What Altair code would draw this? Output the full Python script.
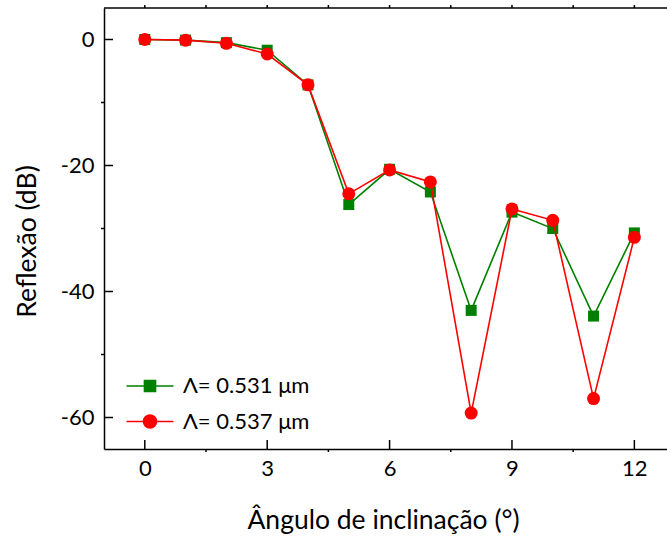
import altair as alt
import pandas as pd

# ---- data ----
angles = [0, 1, 2, 3, 4, 5, 6, 7, 8, 9, 10, 11, 12]
refl_531 = [0.0, -0.1, -0.5, -1.7, -7.2, -26.2, -20.6, -24.2, -43.0, -27.4, -30.0, -43.9, -30.7]
refl_537 = [0.0, -0.1, -0.6, -2.3, -7.2, -24.5, -20.7, -22.6, -59.3, -26.9, -28.7, -57.0, -31.4]
series_names = ["Λ= 0.531 μm", "Λ= 0.537 μm"]
series_colors = ["#008000", "#ff0000"]

x_major = [0, 3, 6, 9, 12]
x_minor = [1.5, 4.5, 7.5, 10.5]
x_top = [0, 1.5, 3, 4.5, 6, 7.5, 9, 10.5, 12]
y_major = [0, -20, -40, -60]
y_minor = [-10, -30, -50]

X_DOMAIN = [-1, 12.8]
Y_DOMAIN = [-65, 5]

W, H = 563, 441
FONT = "Lato"

df = pd.DataFrame({
    "angle": angles * 2,
    "refl": refl_531 + refl_537,
    "series": [series_names[0]] * len(angles) + [series_names[1]] * len(angles),
})

xscale = alt.Scale(domain=X_DOMAIN, nice=False, zero=False)
yscale = alt.Scale(domain=Y_DOMAIN, nice=False, zero=False)
cscale = alt.Scale(domain=series_names, range=series_colors)

xaxis = alt.Axis(values=x_major, ticks=False, grid=False, domainColor="black", domainWidth=1.5,
                 labelFontSize=22, labelFont=FONT, labelColor="black", labelPadding=9,
                 title="Ângulo de inclinação (°)", titleFont=FONT, titleFontSize=26.5,
                 titleFontWeight="normal", titleColor="black", titleX=279, titleY=71,
                 titleBaseline="middle")
yaxis = alt.Axis(values=y_major, ticks=False, grid=False, domainColor="black", domainWidth=1.5,
                 labelFontSize=22, labelFont=FONT, labelColor="black", labelPadding=10,
                 labelExpr="'' + datum.value",
                 title="Reflexão (dB)", titleFont=FONT, titleFontSize=26.5,
                 titleFontWeight="normal", titleColor="black", titleX=-77, titleY=233,
                 titleBaseline="middle")

X = alt.X("angle:Q", scale=xscale, axis=xaxis)
Y = alt.Y("refl:Q", scale=yscale, axis=yaxis)

base = alt.Chart(df)

layers = []
shapes = ["square", "circle"]
sizes = [121, 169]
for i, name in enumerate(series_names):
    sub = base.transform_filter(alt.datum.series == name)
    layers.append(sub.mark_line(strokeWidth=1.6, color=series_colors[i]).encode(x=X, y=Y))
    layers.append(sub.mark_point(filled=True, opacity=1, shape=shapes[i], size=sizes[i],
                                 color=series_colors[i]).encode(x=X, y=Y))

# legend-only layer (no marks drawn)
legend_paths = [
    "M-2,0H2M-0.47,-0.47H0.47V0.47H-0.47Z",
    "M-2,0H2M0.55,0A0.55,0.55 0 1,1 -0.55,0A0.55,0.55 0 1,1 0.55,0Z",
]
leg = alt.Legend(title=None, orient="none", legendX=33, legendY=365, padding=0,
                 symbolSize=552, labelFontSize=22, labelFont=FONT, labelColor="black",
                 labelOffset=20, rowPadding=11.5, symbolStrokeWidth=1.6)
legend_df = pd.DataFrame({"series": series_names})
legend_layer = alt.Chart(legend_df).transform_filter("false").mark_point(
    filled=True, strokeWidth=1.6, opacity=1).encode(
    fill=alt.Fill("series:N", scale=cscale, legend=leg),
    stroke=alt.Stroke("series:N", scale=cscale, legend=leg),
    shape=alt.Shape("series:N", scale=alt.Scale(domain=series_names, range=legend_paths), legend=leg),
)

# ticks and frame
def tick_chart(vals):
    return alt.Chart(pd.DataFrame({"v": vals}))

tick_style = dict(color="black", strokeWidth=1.5)
tx_major = tick_chart(x_major).mark_rule(**tick_style).encode(
    x=alt.X("v:Q", scale=xscale), y=alt.value(H), y2=alt.value(H - 9))
tx_minor = tick_chart(x_minor).mark_rule(**tick_style).encode(
    x=alt.X("v:Q", scale=xscale), y=alt.value(H), y2=alt.value(H + 3))
tx_top = tick_chart(x_top).mark_rule(**tick_style).encode(
    x=alt.X("v:Q", scale=xscale), y=alt.value(0), y2=alt.value(-3))
ty_major = tick_chart(y_major).mark_rule(**tick_style).encode(
    y=alt.Y("v:Q", scale=yscale), x=alt.value(0), x2=alt.value(9))
ty_minor = tick_chart(y_minor).mark_rule(**tick_style).encode(
    y=alt.Y("v:Q", scale=yscale), x=alt.value(0), x2=alt.value(-3))
top_border = alt.Chart(pd.DataFrame({"v": [0]})).mark_rule(color="black", strokeWidth=1.5).encode(
    x=alt.value(0), x2=alt.value(W), y=alt.value(0))

chart = alt.layer(
    *layers, legend_layer, tx_major, tx_minor, tx_top, ty_major, ty_minor, top_border
).properties(
    width=W, height=H,
    autosize=alt.AutoSizeParams(type="none"),
    padding={"left": 104, "top": 8, "right": 0, "bottom": 89},
    background="white",
).configure_view(stroke=None)

chart.save("out.html", embed_options={"renderer": "svg", "actions": False})
